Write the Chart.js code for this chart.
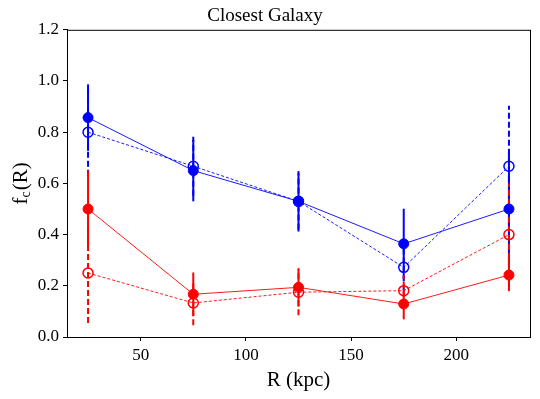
<!DOCTYPE html>
<html>
<head>
<meta charset="utf-8">
<script src="https://cdn.jsdelivr.net/npm/chart.js@4"></script>
<style>
  html, body { margin: 0; padding: 0; background: #fff; }
  #wrap { width: 540px; height: 399px; }
</style>
</head>
<body>
<div id="wrap"><canvas id="fcChart" width="540" height="399"></canvas></div>
<script>
const rValues = [25, 75, 125, 175, 225];
const xTicks = [50, 100, 150, 200];
const yTicks = [0.0, 0.2, 0.4, 0.6, 0.8, 1.0, 1.2];

const blueFilled = [0.857, 0.65, 0.53, 0.364, 0.5];
const blueFilledErr = [0.13, 0.12, 0.118, 0.137, 0.22];
const blueOpen = [0.8, 0.667, 0.53, 0.272, 0.667];
const blueOpenErr = [0.17, 0.115, 0.11, 0.09, 0.236];
const redFilled = [0.5, 0.167, 0.194, 0.129, 0.242];
const redFilledErr = [0.15, 0.085, 0.075, 0.06, 0.063];
const redOpen = [0.25, 0.133, 0.175, 0.181, 0.4];
const redOpenErr = [0.195, 0.087, 0.09, 0.06, 0.2];

const SERIF = "'Liberation Serif', 'DejaVu Serif', serif";
const BLUE = "#0000ff";
const RED = "#ff0000";

function makeSet(values, errs, color, open) {
  return {
    data: rValues.map((r, i) => ({ x: r, y: values[i] })),
    errs: errs,
    open: open,
    borderColor: color,
    backgroundColor: open ? "rgba(0,0,0,0)" : color,
    borderWidth: 0.9,
    borderDash: open ? [3, 2] : [],
    pointRadius: 5,
    pointBorderWidth: open ? 1.5 : 1,
    pointBorderColor: color,
    pointBackgroundColor: open ? "rgba(0,0,0,0)" : color,
    tension: 0,
    fill: false,
  };
}

// vertical error bars, no caps
const errorBars = {
  id: "errorBars",
  beforeDatasetsDraw(chart) {
    const { ctx, scales } = chart;
    chart.data.datasets.forEach((ds) => {
      ctx.save();
      ctx.strokeStyle = ds.borderColor;
      ctx.lineWidth = 2;
      ctx.setLineDash(ds.open ? [6, 3] : []);
      ds.data.forEach((p, i) => {
        const x = scales.x.getPixelForValue(p.x);
        ctx.beginPath();
        ctx.moveTo(x, scales.y.getPixelForValue(p.y - ds.errs[i]));
        ctx.lineTo(x, scales.y.getPixelForValue(p.y + ds.errs[i]));
        ctx.stroke();
      });
      ctx.restore();
    });
  },
};

// frame around the plot and the y label with its subscript
const frameAndLabel = {
  id: "frameAndLabel",
  afterDraw(chart) {
    const { ctx, chartArea: a } = chart;
    ctx.save();
    ctx.strokeStyle = "#000";
    ctx.lineWidth = 1;
    ctx.strokeRect(a.left + 0.5, a.top + 0.5, a.right - a.left, a.bottom - a.top);

    ctx.translate(21, (a.top + a.bottom) / 2);
    ctx.rotate(-Math.PI / 2);
    ctx.fillStyle = "#000";
    ctx.textBaseline = "middle";
    const big = "21px " + SERIF;
    const small = "14px " + SERIF;
    ctx.font = big;
    const wF = ctx.measureText("f").width;
    const wR = ctx.measureText("(R)").width;
    ctx.font = small;
    const wC = ctx.measureText("c").width;
    let x = -(wF + wC + wR + 1) / 2;
    ctx.font = big;
    ctx.fillText("f", x, 0);
    x += wF;
    ctx.font = small;
    ctx.fillText("c", x, 5);
    x += wC + 1;
    ctx.font = big;
    ctx.fillText("(R)", x, 0);
    ctx.restore();
  },
};

new Chart(document.getElementById("fcChart"), {
  type: "line",
  data: {
    datasets: [
      makeSet(blueFilled, blueFilledErr, BLUE, false),
      makeSet(blueOpen, blueOpenErr, BLUE, true),
      makeSet(redFilled, redFilledErr, RED, false),
      makeSet(redOpen, redOpenErr, RED, true),
    ],
  },
  plugins: [errorBars, frameAndLabel],
  options: {
    responsive: false,
    animation: false,
    layout: { padding: { left: 0, right: 10, top: 0, bottom: 0 } },
    plugins: {
      legend: { display: false },
      tooltip: { enabled: false },
      title: {
        display: true,
        text: "Closest Galaxy",
        color: "#000",
        font: { family: SERIF, size: 19, weight: "normal" },
        padding: { top: 5, bottom: 2 },
      },
    },
    scales: {
      x: {
        type: "linear",
        min: 15,
        max: 235,
        afterBuildTicks: (s) => { s.ticks = xTicks.map((v) => ({ value: v })); },
        afterFit: (s) => { s.height = 62; },
        grid: { display: true, drawOnChartArea: false, drawTicks: true, tickLength: 4, color: "#000" },
        border: { display: true, color: "#000", width: 1 },
        ticks: { color: "#000", font: { family: SERIF, size: 17 }, padding: 4, maxRotation: 0 },
        title: {
          display: true,
          text: "R (kpc)",
          color: "#000",
          font: { family: SERIF, size: 21 },
          padding: { top: 0, bottom: 6 },
        },
      },
      y: {
        type: "linear",
        min: 0,
        max: 1.2,
        afterBuildTicks: (s) => { s.ticks = yTicks.map((v) => ({ value: v })); },
        afterFit: (s) => { s.width = 67; },
        grid: { display: true, drawOnChartArea: false, drawTicks: true, tickLength: 4, color: "#000" },
        border: { display: true, color: "#000", width: 1 },
        ticks: { color: "#000", font: { family: SERIF, size: 17 }, padding: 4, callback: (v) => v.toFixed(1) },
      },
    },
  },
});
</script>
</body>
</html>
